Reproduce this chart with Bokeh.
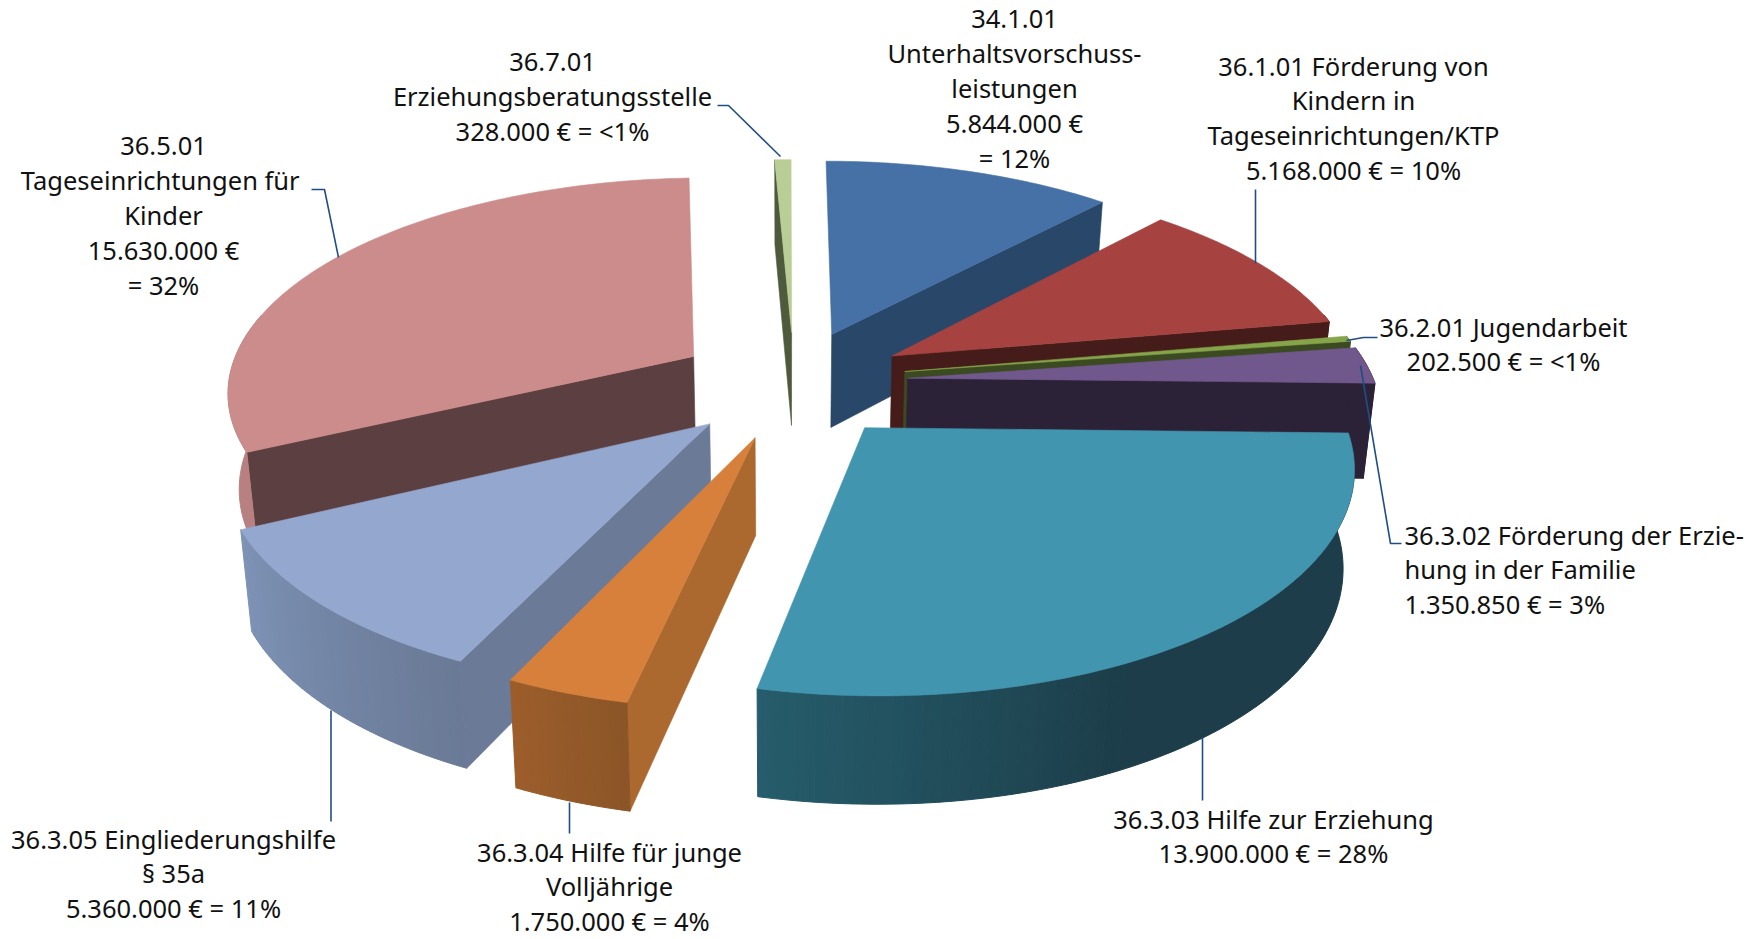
import math
from bokeh.plotting import figure
from bokeh.embed import file_html
from bokeh.resources import INLINE
from bokeh.core.properties import value

# --- data ---
codes = ["34.1.01", "36.1.01", "36.2.01", "36.3.02", "36.3.03", "36.3.04", "36.3.05", "36.5.01", "36.7.01"]
amounts = [5844000, 5168000, 202500, 1350850, 13900000, 1750000, 5360000, 15630000, 328000]
# how far each slice is pulled out of the pie, in pie radii
explode_x = [0.099, 0.229, 0.254, 0.259, 0.161, -0.066, -0.161, -0.204, 0.010]
explode_y = [0.208, 0.101, 0.026, -0.006, -0.232, -0.276, -0.215, 0.099, 0.218]
top_colors = ["#4671A6", "#A64341", "#86A44A", "#71588C", "#4195AE", "#D6803C", "#94A7CE", "#CD8C8C", "#B9CD96"]
wall_colors = ["#294768", "#451C19", "#3C4A21", "#2C2238", "#1C3D49", "#AB682F", "#6B7A96", "#5C3F40", "#4F5A3D"]
outer_left = ["#294768", "#451C19", "#3C4A21", "#2C2238", "#265C6B", "#9C5D2B", "#7D92B5", "#B88080", "#4F5A3D"]
outer_right = ["#294768", "#451C19", "#3C4A21", "#2C2238", "#1C3D49", "#8C5527", "#6A7A96", "#B88080", "#4F5A3D"]

label_lines = [
    ["34.1.01", "Unterhaltsvorschuss-", "leistungen", "5.844.000 €", "= 12%"],
    ["36.1.01 Förderung von", "Kindern in", "Tageseinrichtungen/KTP", "5.168.000 € = 10%"],
    ["36.2.01 Jugendarbeit", "202.500 € = <1%"],
    ["36.3.02 Förderung der Erzie-", "hung in der Familie", "1.350.850 € = 3%"],
    ["36.3.03 Hilfe zur Erziehung", "13.900.000 € = 28%"],
    ["36.3.04 Hilfe für junge", "Volljährige", "1.750.000 € = 4%"],
    ["36.3.05 Eingliederungshilfe", "§ 35a", "5.360.000 € = 11%"],
    ["36.5.01", "Tageseinrichtungen  für", "Kinder", "15.630.000 €", "= 32%"],
    ["36.7.01", "Erziehungsberatungsstelle", "328.000 € = <1%"],
]
label_pos = [(1014, 18), (1353, 65), (1503, 326), (1404, 534), (1273, 818), (609, 851), (173, 838), (163, 145), (552, 61)]
label_align = ["center", "center", "center", "left", "center", "center", "center", "center", "center"]
leaders = [
    None,
    [(1255, 189), (1255, 263)],
    [(1377, 337), (1363, 337), (1346, 340)],
    [(1401, 543), (1390, 543), (1360, 365)],
    [(1202, 737), (1202, 800)],
    [(569, 802), (569, 833)],
    [(330.5, 710), (330.5, 821)],
    [(311, 189), (324, 189), (338, 257)],
    [(717, 105), (728, 105), (780, 156)],
]

# --- projection of the exploded pie (perspective view) ---
VX, VY = 786.6, 376.5
F, G, D, K, K2, C = 465.0, 211.0, 95.0, 0.15, 0.10, 0.02


def proj(X, Y, drop=0.0):
    w = 1 + K * Y
    return VX + F * X / w * (1 - C * drop), VY - G * Y / w + drop * D / (1 + K2 * Y)


def mix(c1, c2, t):
    a = [int(c1[i:i + 2], 16) for i in (1, 3, 5)]
    b = [int(c2[i:i + 2], 16) for i in (1, 3, 5)]
    return "#%02x%02x%02x" % tuple(round(u + (v - u) * t) for u, v in zip(a, b))


total = sum(amounts)
slices = []
start = 0.0
for i, v in enumerate(amounts):
    sweep = 360.0 * v / total
    slices.append((i, start, start + sweep))
    start += sweep

p = figure(width=1762, height=939, x_range=(0, 1762), y_range=(939, 0),
           output_backend="svg", toolbar_location=None, min_border=0)
p.axis.visible = False
p.grid.visible = False
p.outline_line_color = None


def face(pts, color, lw=0.6):
    p.patch([q[0] for q in pts], [q[1] for q in pts], fill_color=color, line_color=color, line_width=lw)


order = [8, 0, 1, 2, 3, 7, 6, 5, 4]
for i in order:
    _, a0, a1 = slices[i]
    ex, ey = explode_x[i], explode_y[i]
    n = max(2, int(a1 - a0) + 1)
    angles = [a0 + (a1 - a0) * j / n for j in range(n + 1)]
    arc = [(ex + math.sin(math.radians(a)), ey + math.cos(math.radians(a))) for a in angles]
    # radial walls facing the viewer
    if a1 <= 185:
        e = arc[-1]
        face([proj(ex, ey), proj(*e), proj(*e, 1), proj(ex, ey, 1)], wall_colors[i])
    if a0 >= 180:
        e = arc[0]
        face([proj(ex, ey), proj(*e), proj(*e, 1), proj(ex, ey, 1)], wall_colors[i])
    # outer wall, only where it faces the viewer; shaded across its width, equal colours merged
    runs = []
    for j in range(n):
        if math.cos(math.radians(angles[j])) > 0.2 and math.cos(math.radians(angles[j + 1])) > 0.2:
            continue
        t = j / max(1, n - 1)
        if i == 4:
            t = min(1.0, (1 - t) * 2.6)
        elif a0 >= 180:
            t = t if i == 7 else 1 - t
        col = mix(outer_left[i], outer_right[i], t)
        if runs and runs[-1][0] == col and runs[-1][2] == j:
            runs[-1][2] = j + 1
        else:
            runs.append([col, j, j + 1])
    for col, j0, j1 in runs:
        seg = arc[j0:j1 + 1]
        face([proj(*q) for q in seg] + [proj(*q, 1) for q in reversed(seg)], col, lw=1.0)
    # top face
    face([proj(ex, ey)] + [proj(*q) for q in arc], top_colors[i])

for pts in leaders:
    if pts:
        p.line([q[0] for q in pts], [q[1] for q in pts], line_color="#1F4E85", line_width=1.6)

LINE = 34.8
for lines, (x, y), al in zip(label_lines, label_pos, label_align):
    for k, s in enumerate(lines):
        p.text([x], [y + k * LINE], text=[s], text_align=al, text_baseline="middle",
               text_font=value("Noto Sans"), text_font_size="25.5px", text_color="#111111")

open("out.html", "w").write(file_html(p, INLINE))
